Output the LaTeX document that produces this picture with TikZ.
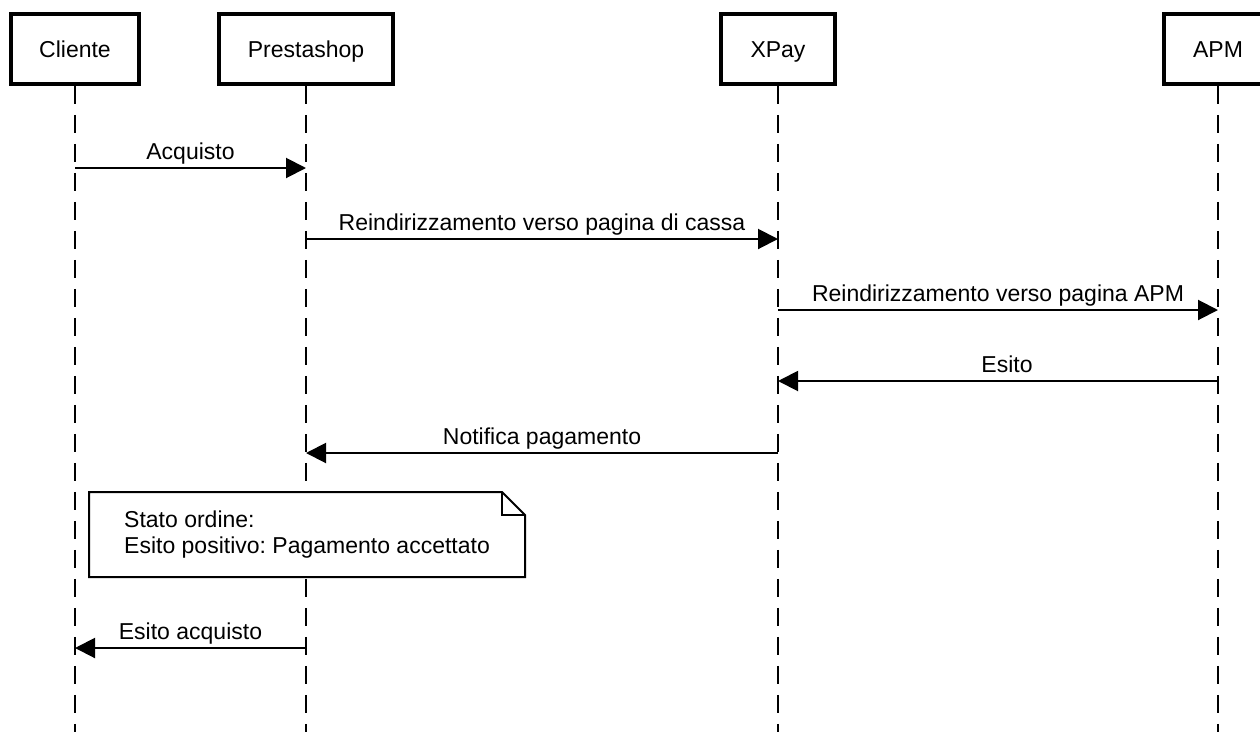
\documentclass[tikz,border=0pt]{standalone}
\usepackage{fontspec}
\setmainfont{Liberation Sans}
\usetikzlibrary{arrows.meta}
\frenchspacing
\tikzset{
  x=1pt, y=-1pt,
  actor/.style={draw=black, line width=3.5pt, fill=white, minimum height=70pt,
    text height=16.5pt, text depth=0pt, inner sep=0pt, font=\fontsize{23}{26}\selectfont},
  lifeline/.style={line width=2pt, dash pattern=on 18pt off 11pt},
  msg/.style={line width=2pt, -{Triangle[length=20pt,width=20pt]}},
  msglabel/.style={anchor=base, inner sep=0pt, font=\fontsize{23}{26}\selectfont},
  notebox/.style={draw=black, line width=2pt, fill=white, line join=miter},
}
\begin{document}
\begin{tikzpicture}
\clip (0,0) rectangle (1260,731);
\fill[white] (0,0) rectangle (1260,731);

% actors
\node[actor, minimum width=128pt] (cli) at (75,49) {Cliente};
\node[actor, minimum width=174pt] (pre) at (306,49) {Prestashop};
\node[actor, minimum width=114pt] (xpa) at (778,49) {XPay};
\node[actor, minimum width=108pt] (apm) at (1218,49) {APM};

% lifeline ends
\coordinate (cliE) at (75,735);
\coordinate (preE) at (306,735);
\coordinate (xpaE) at (778,735);
\coordinate (apmE) at (1218,735);
\draw[lifeline] (cli.south) -- (cliE);
\draw[lifeline] (pre.south) -- (preE);
\draw[lifeline] (xpa.south) -- (xpaE);
\draw[lifeline] (apm.south) -- (apmE);

% message points
\coordinate (m1a) at (75,168);  \coordinate (m1b) at (306,168);
\coordinate (m2a) at (306,239); \coordinate (m2b) at (778,239);
\coordinate (m3a) at (778,310); \coordinate (m3b) at (1218,310);
\coordinate (m4a) at (1218,381); \coordinate (m4b) at (778,381);
\coordinate (m5a) at (778,453); \coordinate (m5b) at (306,453);
\coordinate (m6a) at (306,648); \coordinate (m6b) at (75,648);

\draw[msg] (m1a) -- (m1b);
\node[msglabel] (l1) at (190.5,159) {Acquisto};
\draw[msg] (m2a) -- (m2b);
\node[msglabel] (l2) at (542,230) {Reindirizzamento verso pagina di cassa};
\draw[msg] (m3a) -- (m3b);
\node[msglabel] (l3) at (998,301) {Reindirizzamento verso pagina APM};
\draw[msg] (m4a) -- (m4b);
\node[msglabel] (l4) at (1007,372) {Esito};
\draw[msg] (m5a) -- (m5b);
\node[msglabel] (l5) at (542,444) {Notifica pagamento};
\draw[msg] (m6a) -- (m6b);
\node[msglabel] (l6) at (190.5,639) {Esito acquisto};

% note
\draw[notebox] (89,492) -- (502,492) -- (525,515) -- (525,577) -- (89,577) -- cycle;
\draw[line width=2pt, line join=miter] (502,492) -- (502,515) -- (525,515);
\node[anchor=base west, inner sep=0pt, align=left, font=\fontsize{23}{26}\selectfont] (note) at (124,553)
  {Stato ordine:\\Esito positivo: Pagamento accettato};
\end{tikzpicture}
\end{document}
